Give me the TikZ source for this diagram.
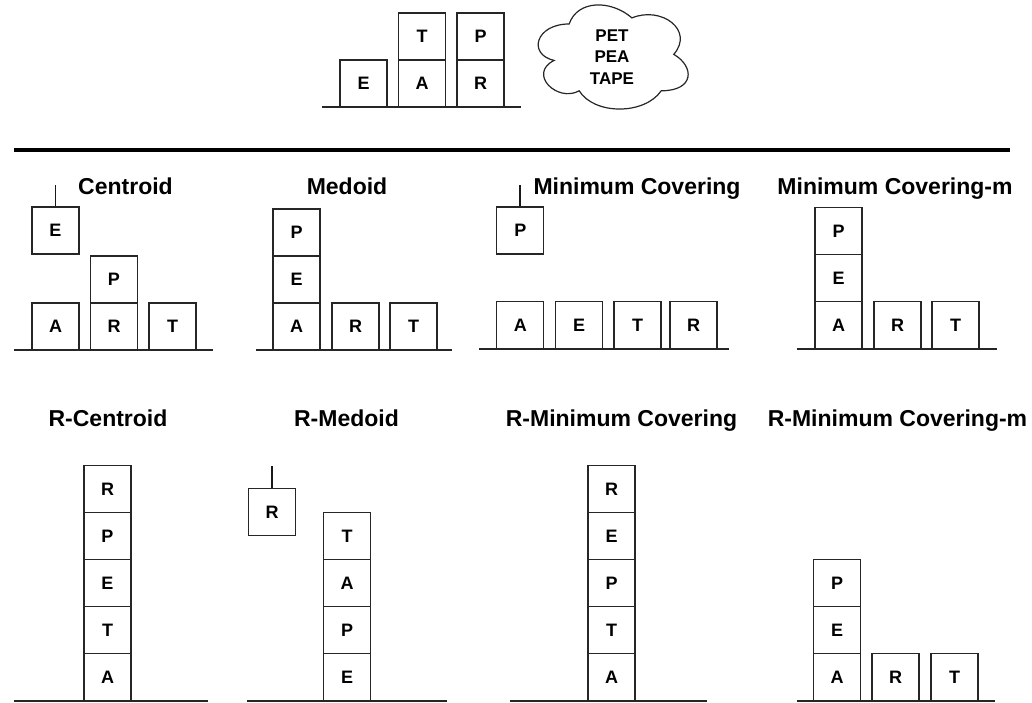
\documentclass[tikz,border=0pt]{standalone}
\usepackage{fontspec}
\setmainfont{Liberation Sans}
\tikzset{
  blk/.style={draw=black!85, line width=1.2pt, minimum width=47pt, minimum height=47pt, inner sep=0pt, font=\fontsize{18}{21}\selectfont\bfseries},
  ttl/.style={anchor=base, inner sep=0pt, font=\fontsize{23}{27}\selectfont\bfseries},
  ground/.style={draw=black!85, line width=2pt},
  hookline/.style={draw=black!90, line width=1.8pt},
  divider/.style={draw=black, line width=3.2pt},
  cloudline/.style={draw=black!85, line width=1.2pt}
}
\begin{document}
\begin{tikzpicture}[x=1pt,y=-1pt]
\useasboundingbox (0,0) rectangle (1032,702);
% ---------- top: world ----------
\coordinate (tg1) at (322,107);
\coordinate (tg2) at (521,107);
\node[blk] (tE) at (363.5,83.5) {E};
\node[blk] (tA) at (422,83.5) {A};
\node[blk] (tT) at (422,36.5) {T};
\node[blk] (tR) at (480.5,83.5) {R};
\node[blk] (tP) at (480.5,36.5) {P};
\draw[ground] (tg1) -- (tg2);
% cloud (draw.io style)
\begin{scope}[shift={(527.3,-6.4)}, x=167.4pt, y=-121.5pt]
\draw[cloudline] (0.25,0.25) .. controls (0.05,0.25) and (0,0.5) .. (0.16,0.55)
  .. controls (0,0.66) and (0.18,0.9) .. (0.31,0.8)
  .. controls (0.4,1) and (0.7,1) .. (0.8,0.8)
  .. controls (1,0.8) and (1,0.6) .. (0.875,0.5)
  .. controls (1,0.3) and (0.8,0.1) .. (0.625,0.2)
  .. controls (0.5,0.05) and (0.3,0.05) .. cycle;
\end{scope}
\node[align=center, inner sep=0pt, font=\fontsize{17}{21.5}\selectfont\bfseries] (words) at (612,57) {PET\\PEA\\TAPE};
% divider
\coordinate (d1) at (14,150);
\coordinate (d2) at (1010,150);
\draw[divider] (d1) -- (d2);
% ---------- row 1 ----------
% Centroid
\node[ttl] (t1) at (125.5,194.5) {Centroid};
\node[blk] (c1A) at (55.5,326.5) {A};
\node[blk] (c1R) at (114,326.5) {R};
\node[blk] (c1P) at (114,279.5) {P};
\node[blk] (c1T) at (172.5,326.5) {T};
\node[blk] (c1E) at (55.5,230.5) {E};
\coordinate (c1h) at (55.5,185);
\draw[hookline] (c1E.north) -- (c1h);
\coordinate (g1a) at (14,350);
\coordinate (g1b) at (213,350);
\draw[ground] (g1a) -- (g1b);
% Medoid
\node[ttl] (t2) at (347,194.5) {Medoid};
\node[blk] (c2A) at (296.5,326.5) {A};
\node[blk] (c2E) at (296.5,279.5) {E};
\node[blk] (c2P) at (296.5,232.5) {P};
\node[blk] (c2R) at (355.5,326.5) {R};
\node[blk] (c2T) at (413.5,326.5) {T};
\coordinate (g2a) at (256,350);
\coordinate (g2b) at (452,350);
\draw[ground] (g2a) -- (g2b);
% Minimum Covering
\node[ttl] (t3) at (637,194.5) {Minimum Covering};
\node[blk] (c3A) at (520.3,325) {A};
\node[blk] (c3E) at (579,325) {E};
\node[blk] (c3T) at (637.5,325) {T};
\node[blk] (c3R) at (693.5,325) {R};
\node[blk] (c3P) at (520.3,230.5) {P};
\coordinate (c3h) at (520.3,185);
\draw[hookline] (c3P.north) -- (c3h);
\coordinate (g3a) at (479,348.5);
\coordinate (g3b) at (729,348.5);
\draw[ground] (g3a) -- (g3b);
% Minimum Covering-m
\node[ttl] (t4) at (895,194.5) {Minimum Covering-m};
\node[blk] (c4A) at (838.5,325) {A};
\node[blk] (c4E) at (838.5,278) {E};
\node[blk] (c4P) at (838.5,231) {P};
\node[blk] (c4R) at (897.5,325) {R};
\node[blk] (c4T) at (955.5,325) {T};
\coordinate (g4a) at (797,348.5);
\coordinate (g4b) at (997,348.5);
\draw[ground] (g4a) -- (g4b);
% ---------- row 2 ----------
% R-Centroid
\node[ttl] (t5) at (108,426.5) {R-Centroid};
\node[blk] (c5A) at (107.5,677) {A};
\node[blk] (c5T) at (107.5,630) {T};
\node[blk] (c5E) at (107.5,583) {E};
\node[blk] (c5P) at (107.5,536) {P};
\node[blk] (c5R) at (107.5,489) {R};
\coordinate (g5a) at (14,700.5);
\coordinate (g5b) at (208,700.5);
\draw[ground] (g5a) -- (g5b);
% R-Medoid
\node[ttl] (t6) at (346.5,426.5) {R-Medoid};
\node[blk] (c6E) at (347,677) {E};
\node[blk] (c6P) at (347,630) {P};
\node[blk] (c6A) at (347,583) {A};
\node[blk] (c6T) at (347,536) {T};
\node[blk] (c6R) at (272,512) {R};
\coordinate (c6h) at (272,466);
\draw[hookline] (c6R.north) -- (c6h);
\coordinate (g6a) at (247,700.5);
\coordinate (g6b) at (447,700.5);
\draw[ground] (g6a) -- (g6b);
% R-Minimum Covering
\node[ttl] (t7) at (621.5,426.5) {R-Minimum Covering};
\node[blk] (c7A) at (611.5,677) {A};
\node[blk] (c7T) at (611.5,630) {T};
\node[blk] (c7P) at (611.5,583) {P};
\node[blk] (c7E) at (611.5,536) {E};
\node[blk] (c7R) at (611.5,489) {R};
\coordinate (g7a) at (510,700.5);
\coordinate (g7b) at (707,700.5);
\draw[ground] (g7a) -- (g7b);
% R-Minimum Covering-m
\node[ttl] (t8) at (897.5,426.5) {R-Minimum Covering-m};
\node[blk] (c8A) at (837,677) {A};
\node[blk] (c8E) at (837,630) {E};
\node[blk] (c8P) at (837,583) {P};
\node[blk] (c8R) at (895.5,677) {R};
\node[blk] (c8T) at (954.5,677) {T};
\coordinate (g8a) at (797,700.5);
\coordinate (g8b) at (995,700.5);
\draw[ground] (g8a) -- (g8b);
\end{tikzpicture}
\end{document}
